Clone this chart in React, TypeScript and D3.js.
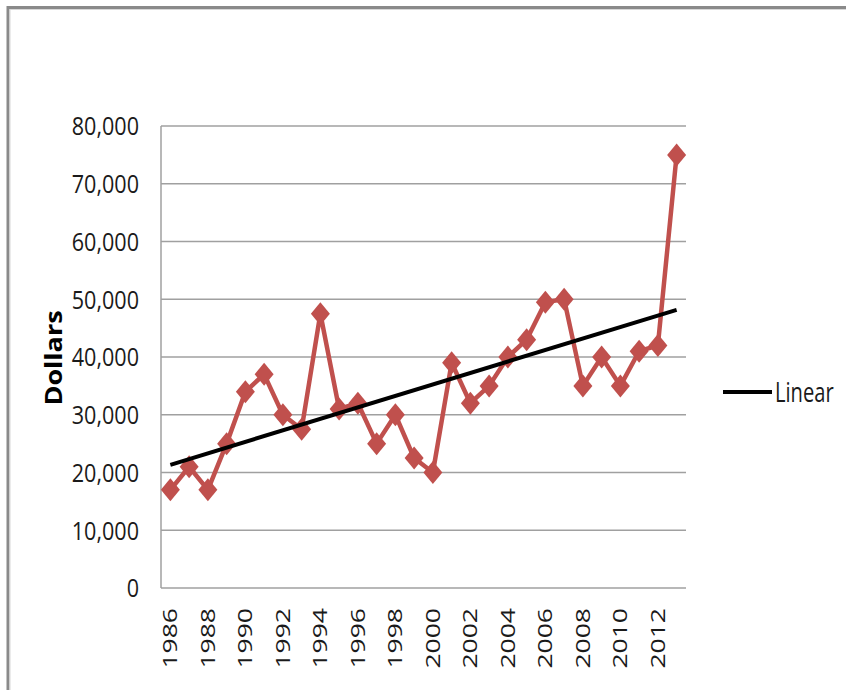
import { useMemo } from 'react';
import * as d3 from 'd3';

const years = d3.range(1986, 2014);
const dollars = [
  17000, 21000, 17000, 25000, 34000, 37000, 30000, 27500, 47500, 31000,
  32000, 25000, 30000, 22500, 20000, 39000, 32000, 35000, 40000, 43000,
  49500, 50000, 35000, 40000, 35000, 41000, 42000, 75000,
];
const yTicks = [0, 10000, 20000, 30000, 40000, 50000, 60000, 70000, 80000];
const xTickYears = d3.range(1986, 2014, 2);

const W = 846;
const H = 690;
const FONT = "'Open Sans', 'Liberation Sans', sans-serif";
const RED = '#C0504D';
const GRID = '#a0a0a0';

export default function App() {
  const x = d3.scaleBand<number>().domain(years).range([161, 686]);
  const y = d3.scaleLinear().domain([0, 80000]).range([588, 126]);
  const cx = (yr: number) => (x(yr) ?? 0) + x.bandwidth() / 2;

  // least-squares trend line
  const trend = useMemo(() => {
    const xm = d3.mean(years)!;
    const ym = d3.mean(dollars)!;
    const num = d3.sum(years, (yr, i) => (yr - xm) * (dollars[i] - ym));
    const den = d3.sum(years, yr => (yr - xm) ** 2);
    const slope = num / den;
    const first = years[0];
    const last = years[years.length - 1];
    return [
      [first, ym + slope * (first - xm)],
      [last, ym + slope * (last - xm)],
    ];
  }, []);

  const line = d3
    .line<number>()
    .x((_, i) => cx(years[i]))
    .y(d => y(d));

  const fmt = d3.format(',');
  const diamond = (px: number, py: number) =>
    `M${px},${py - 11.5}L${px + 9.5},${py}L${px},${py + 11.5}L${px - 9.5},${py}Z`;

  return (
    <svg
      width={W}
      height={H}
      style={{ position: 'absolute', left: 0, top: 0, background: '#fff' }}
      fontFamily={FONT}
    >
      {/* outer frame (only left and top edges visible) */}
      <path d={`M8,${H}V7.5H${W}`} fill="none" stroke="#8a8a8a" strokeWidth={3} />
      <path d={`M10,${H}V9.5H${W}`} fill="none" stroke="#d8d8d8" strokeWidth={1} />

      {/* gridlines */}
      {yTicks.map(t => (
        <line key={t} x1={161} x2={686} y1={y(t)} y2={y(t)} stroke={GRID} strokeWidth={1.5} />
      ))}
      <line x1={161} x2={161} y1={y(80000)} y2={y(0)} stroke={GRID} strokeWidth={1.5} />

      {/* y tick labels */}
      {yTicks.map(t => (
        <g key={t} transform={`translate(139,${y(t)}) scale(0.83,1)`}>
          <text textAnchor="end" dy="0.36em" fontSize={26} fill="#1a1a1a">
            {fmt(t)}
          </text>
        </g>
      ))}

      {/* x tick labels */}
      {xTickYears.map(yr => (
        <g key={yr} transform={`translate(${cx(yr)},608) scale(0.72,1) rotate(-90)`}>
          <text textAnchor="end" dy="0.36em" fontSize={26.5} fill="#1a1a1a">
            {yr}
          </text>
        </g>
      ))}

      {/* axis title */}
      <g transform={`translate(54,358) scale(0.83,1) rotate(-90)`}>
        <text textAnchor="middle" dy="0.36em" fontSize={27} fontWeight="bold" fill="#000">
          Dollars
        </text>
      </g>

      {/* data series */}
      <path d={line(dollars) ?? ''} fill="none" stroke={RED} strokeWidth={4.5} strokeLinejoin="round" />
      {dollars.map((d, i) => (
        <path key={years[i]} d={diamond(cx(years[i]), y(d))} fill={RED} />
      ))}

      {/* linear trend */}
      <line
        x1={cx(trend[0][0])}
        y1={y(trend[0][1])}
        x2={cx(trend[1][0])}
        y2={y(trend[1][1])}
        stroke="#000"
        strokeWidth={4}
      />

      {/* legend */}
      <line x1={723} x2={772} y1={392} y2={392} stroke="#000" strokeWidth={4} />
      <g transform="translate(775,392) scale(0.72,1)">
        <text dy="0.36em" fontSize={28} fill="#1a1a1a">
          Linear
        </text>
      </g>
    </svg>
  );
}
